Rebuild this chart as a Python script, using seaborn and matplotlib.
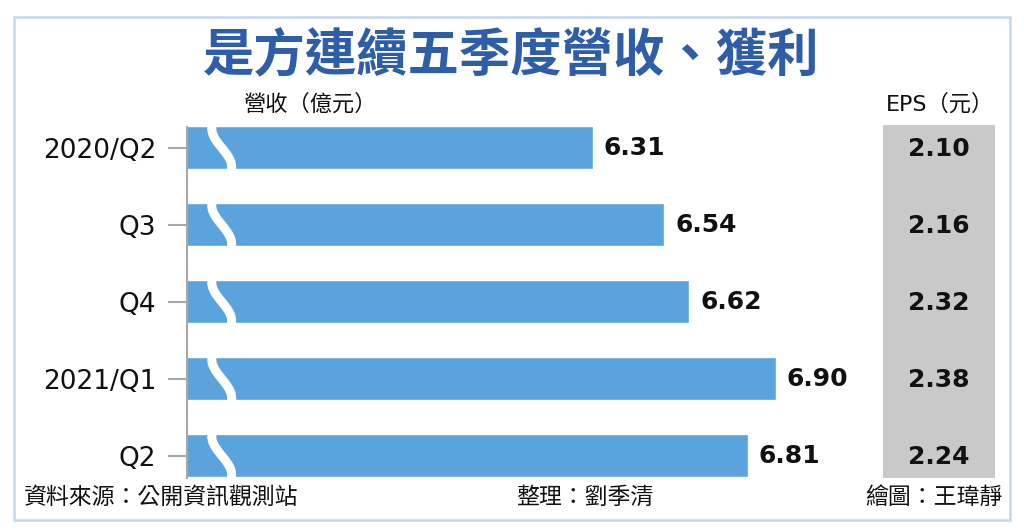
import numpy as np
import matplotlib
matplotlib.use("Agg")
import matplotlib.pyplot as plt
import seaborn as sns

# data
quarters = ["2020/Q2", "Q3", "Q4", "2021/Q1", "Q2"]
revenue = [6.31, 6.54, 6.62, 6.90, 6.81]   # 營收(億元)
eps = [2.10, 2.16, 2.32, 2.38, 2.24]       # EPS(元)

title = "是方連續五季度營收、獲利"
source = "資料來源：公開資訊觀測站"
editor = "整理：劉季清"
artist = "繪圖：王瑋靜"

sns.set_style("white")
plt.rcParams['font.family'] = ['DejaVu Sans', 'Noto Sans CJK TC']

bar_color = "#5ba3dc"
W, H = 1024, 532
fig = plt.figure(figsize=(W / 100, H / 100), dpi=100)

# frame around the whole graphic
fig.patches.append(plt.Rectangle((14 / W, 1 - 520 / H), 996 / W, 503 / H,
                                 transform=fig.transFigure, fill=False,
                                 edgecolor="#c2d8ee", linewidth=1.8))

ax = fig.add_axes([187 / W, 1 - 478 / H, 683 / W, 351 / H])
sns.barplot(x=revenue, y=quarters, orient="h", color=bar_color,
            width=0.56, saturation=1, ax=ax)
ax.set_xlim(5.0, 5.0 + 683 / 310)
ax.set_ylim(4.29, -0.27)

# axis break marks
t = np.linspace(-1.25, 1.25, 60)
for i in range(len(quarters)):
    xs = 5.112 + 0.032 * np.sin(np.pi / 2 * t)
    ys = i + 0.25 * t
    ax.plot(xs, ys, color="white", lw=6.5, solid_capstyle="butt", zorder=5)

for i, v in enumerate(revenue):
    ax.text(v + 0.035, i, f"{v:.2f}", va="center", ha="left",
            fontsize=18, fontweight="bold", color="#111111")

for s in ["top", "right", "bottom"]:
    ax.spines[s].set_visible(False)
ax.spines["left"].set_color("#a8a8a8")
ax.spines["left"].set_linewidth(1.5)
ax.set_xticks([])
ax.tick_params(axis="y", length=14, width=1.5, color="#a8a8a8", pad=8,
               labelsize=19, labelcolor="#111111", left=True)
ax.set_xlabel("")
ax.set_ylabel("")

# EPS column
ax2 = fig.add_axes([883 / W, 1 - 478 / H, 112 / W, 353 / H])
ax2.set_facecolor("#c9c9c9")
ax2.set_ylim(4.29, -0.296)
ax2.set_xlim(0, 1)
ax2.set_xticks([])
ax2.set_yticks([])
for s in ax2.spines.values():
    s.set_visible(False)
for i, e in enumerate(eps):
    ax2.text(0.5, i + 0.02, f"{e:.2f}", ha="center", va="center",
             fontsize=18, fontweight="bold", color="#111111")

fig.text(511 / W, 1 - 56 / H, title, ha="center", va="center",
         fontsize=37, fontweight="bold", color="#2f5ea8",
         family=['Noto Sans CJK TC'])
fig.text(244 / W, 1 - 104 / H, "營收（億元）", ha="left", va="center",
         fontsize=16, color="#111111", family=['DejaVu Sans', 'Noto Sans CJK TC'])
fig.text(940 / W, 1 - 104 / H, "EPS（元）", ha="center", va="center",
         fontsize=16, color="#111111", family=['DejaVu Sans', 'Noto Sans CJK TC'])

fig.text(24 / W, 1 - 497 / H, source, ha="left", va="center",
         fontsize=16.5, color="#111111", family=['Noto Sans CJK TC'])
fig.text(585 / W, 1 - 497 / H, editor, ha="center", va="center",
         fontsize=16.5, color="#111111", family=['Noto Sans CJK TC'])
fig.text(1002 / W, 1 - 497 / H, artist, ha="right", va="center",
         fontsize=16.5, color="#111111", family=['Noto Sans CJK TC'])

fig.savefig("out.png", dpi=100)
